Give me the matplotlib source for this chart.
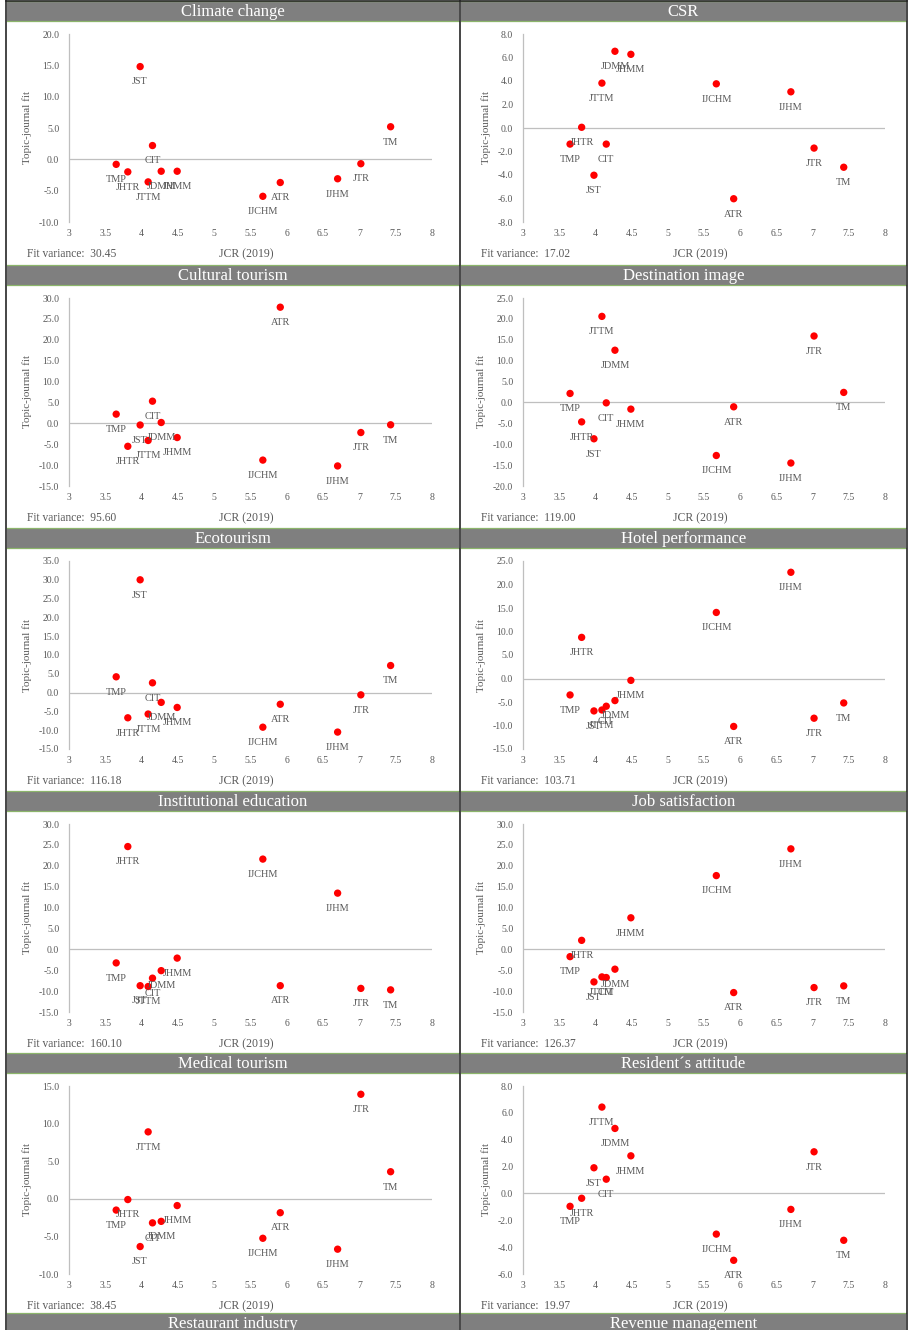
"""Topic-journal fit vs. JCR impact factor, one scatter panel per topic."""
import matplotlib
matplotlib.use("Agg")
import matplotlib.pyplot as plt
from matplotlib.patches import Rectangle

plt.rcParams["font.family"] = ["Liberation Serif", "DejaVu Serif"]

journals = ["TMP", "JHTR", "JST", "JTTM", "CIT", "JDMM", "JHMM",
            "IJCHM", "ATR", "IJHM", "JTR", "TM"]
jcr_2019 = [3.65, 3.81, 3.98, 4.09, 4.15, 4.27, 4.49,
            5.67, 5.91, 6.70, 7.02, 7.43]

topics = ["Climate change", "CSR", "Cultural tourism", "Destination image",
          "Ecotourism", "Hotel performance", "Institutional education",
          "Job satisfaction", "Medical tourism", "Resident\u00b4s attitude"]
next_topics = ["Restaurant industry", "Revenue management"]

fit_climate = [-0.8, -2.0, 14.8, -3.6, 2.2, -1.9, -1.9, -5.9, -3.7, -3.1, -0.7, 5.2]
fit_csr = [-1.37, 0.06, -4.02, 3.82, -1.37, 6.53, 6.27, 3.76, -6.02, 3.08, -1.71, -3.34]
fit_cultural = [2.2, -5.5, -0.4, -4.1, 5.3, 0.2, -3.4, -8.8, 27.8, -10.2, -2.2, -0.35]
fit_destination = [2.15, -4.65, -8.7, 20.6, -0.1, 12.5, -1.6, -12.7, -1.05, -14.5, 15.9, 2.4]
fit_eco = [4.2, -6.7, 30.0, -5.7, 2.6, -2.6, -3.95, -9.2, -3.1, -10.5, -0.6, 7.2]
fit_hotel = [-3.5, 8.75, -6.9, -6.7, -5.9, -4.7, -0.4, 14.05, -10.2, 22.6, -8.45, -5.2]
fit_education = [-3.25, 24.6, -8.7, -8.9, -6.9, -5.1, -2.1, 21.6, -8.7, 13.45, -9.35, -9.7]
fit_job = [-1.75, 2.15, -7.8, -6.6, -6.75, -4.75, 7.55, 17.65, -10.35, 24.05, -9.15, -8.75]
fit_medical = [-1.5, -0.1, -6.35, 8.9, -3.2, -3.0, -0.9, -5.25, -1.85, -6.7, 13.9, 3.6]
fit_resident = [-0.96, -0.36, 1.91, 6.43, 1.06, 4.84, 2.8, -3.03, -4.98, -1.19, 3.1, -3.49]

fits = [fit_climate, fit_csr, fit_cultural, fit_destination, fit_eco,
        fit_hotel, fit_education, fit_job, fit_medical, fit_resident]
fit_variance = ["30.45", "17.02", "95.60", "119.00", "116.18",
                "103.71", "160.10", "126.37", "38.45", "19.97"]
y_limits = [(-10, 20, 5), (-8, 8, 2), (-15, 30, 5), (-20, 25, 5), (-15, 35, 5),
            (-15, 25, 5), (-15, 30, 5), (-15, 30, 5), (-10, 15, 5), (-6, 8, 2)]

W, H = 911, 1330
TEXT = "#595959"
AXIS = "#bfbfbf"
HEADER = "#7f7f7f"
GREEN = "#8cb56b"

fig = plt.figure(figsize=(W / 100, H / 100), dpi=100)
fig.patch.set_facecolor("white")


def box(x0, y0, x1, y1):
    return [x0 / W, 1 - y1 / H, (x1 - x0) / W, (y1 - y0) / H]


# background layer in pixel coordinates
bg = fig.add_axes([0, 0, 1, 1], zorder=0)
bg.set_xlim(0, W)
bg.set_ylim(H, 0)
bg.axis("off")

col_edges = [(6, 460), (460, 907)]
plot_x = [(69, 432), (523, 885)]
row_tops = [1, 265, 528, 791, 1053, 1313]
head_h = 20


def header(x0, x1, y0, title):
    bg.add_patch(Rectangle((x0 + 1, y0), x1 - x0 - 2, head_h,
                           facecolor=HEADER, edgecolor="none"))
    bg.plot([x0 + 1, x1 - 1], [y0, y0], color=GREEN, lw=0.9)
    bg.plot([x0 + 1, x1 - 1], [y0 + head_h, y0 + head_h], color=GREEN, lw=0.9)
    bg.text((x0 + x1) / 2, y0 + head_h / 2 + 1, title, color="white",
            fontsize=12, ha="center", va="center")


for i, topic in enumerate(topics):
    row, col = divmod(i, 2)
    cx0, cx1 = col_edges[col]
    px0, px1 = plot_x[col]
    top = row_tops[row]
    header(cx0, cx1, top, topic)

    py0, py1 = top + 33, top + 221
    ax = fig.add_axes(box(px0, py0, px1, py1), zorder=2)
    ax.patch.set_alpha(0)
    lo, hi, step = y_limits[i]
    ax.set_xlim(3, 8)
    ax.set_ylim(lo, hi)
    ax.set_xticks([3 + 0.5 * k for k in range(11)])
    ax.set_xticklabels(["3", "3.5", "4", "4.5", "5", "5.5", "6", "6.5", "7", "7.5", "8"])
    yt = list(range(lo, hi + 1, step))
    ax.set_yticks(yt)
    ax.set_yticklabels([f"{v:.1f}" for v in yt])
    ax.tick_params(length=0, labelsize=7, colors=TEXT)
    ax.tick_params(axis="x", pad=5)
    ax.tick_params(axis="y", pad=7)
    for s in ["top", "right", "bottom"]:
        ax.spines[s].set_visible(False)
    ax.spines["left"].set_color(AXIS)
    ax.spines["left"].set_linewidth(0.9)
    ax.axhline(0, color=AXIS, lw=0.9, zorder=1)

    ax.scatter(jcr_2019, fits[i], s=28, color="#ff0000", edgecolors="none", zorder=3)
    for name, xv, yv in zip(journals, jcr_2019, fits[i]):
        ax.annotate(name, (xv, yv), xytext=(0, -11), textcoords="offset points",
                    ha="center", va="center", fontsize=7.4, color=TEXT, zorder=4)

    ax.set_ylabel("Topic-journal fit", fontsize=8, color=TEXT, labelpad=5)
    bg.text(cx0 + 21, top + 253, f"Fit variance:  {fit_variance[i]}",
            fontsize=8.3, color=TEXT, ha="left", va="center")
    bg.text((px0 + px1) / 2 - 4, top + 253, "JCR (2019)",
            fontsize=8.5, color=TEXT, ha="center", va="center")

for col, title in enumerate(next_topics):
    cx0, cx1 = col_edges[col]
    header(cx0, cx1, row_tops[-1], title)

# table frame and column divider
bg.plot([460, 460], [0, H], color="#262626", lw=1.2)
bg.plot([6, 6], [0, H], color="#262626", lw=1.2)
bg.plot([907, 907], [0, H], color="#262626", lw=1.2)
bg.plot([6, 907], [0.6, 0.6], color="#262626", lw=1.2)

fig.savefig("out.png", dpi=100, facecolor="white")
